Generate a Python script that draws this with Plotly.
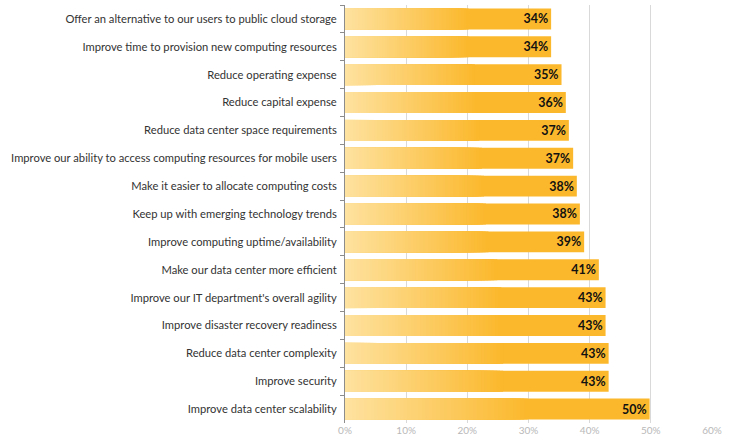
import plotly.graph_objects as go

categories = [
    "Offer an alternative to our users to public cloud storage",
    "Improve time to provision new computing resources",
    "Reduce operating expense",
    "Reduce capital expense",
    "Reduce data center space requirements",
    "Improve our ability to access computing resources for mobile users",
    "Make it easier to allocate computing costs",
    "Keep up with emerging technology trends",
    "Improve computing uptime/availability",
    "Make our data center more efficient",
    "Improve our IT department's overall agility",
    "Improve disaster recovery readiness",
    "Reduce data center complexity",
    "Improve security",
    "Improve data center scalability",
]
values = [33.7, 33.7, 35.4, 36.1, 36.6, 37.3, 37.9, 38.4, 39.1, 41.5, 42.6, 42.6, 43.1, 43.1, 49.8]
labels = ["34%", "34%", "35%", "36%", "37%", "37%", "38%", "38%", "39%", "41%", "43%", "43%", "43%", "43%", "50%"]
x_ticks = [0, 10, 20, 30, 40, 50, 60]
x_ticktext = ["0%", "10%", "20%", "30%", "40%", "50%", "60%"]

light = (254, 226, 160)
full = (251, 184, 44)
grad_frac = 0.6
n_layers = 50
bar_w = 0.75

fig = go.Figure()
# full-length bar with label
fig.add_trace(go.Bar(
    y=categories, x=values, orientation="h", width=bar_w,
    marker=dict(color="rgb(%d,%d,%d)" % full, line=dict(width=0)),
    text=labels, textposition="inside", insidetextanchor="end",
    textfont=dict(family="Lato", size=12.5, color="#111111", weight="bold"),
    showlegend=False, hoverinfo="y+text",
))
# gradient layers (longest first, shortest/lightest on top)
for j in range(n_layers):
    f = grad_frac * (1 - j / n_layers)
    t = 1 - (j + 0.5) / n_layers
    c = tuple(round(light[i] + (full[i] - light[i]) * t) for i in range(3))
    fig.add_trace(go.Bar(
        y=categories, x=[v * f for v in values], orientation="h", width=bar_w,
        marker=dict(color="rgb(%d,%d,%d)" % c, line=dict(width=0)),
        showlegend=False, hoverinfo="skip",
    ))

fig.update_layout(
    barmode="overlay",
    width=736, height=443,
    margin=dict(l=345, r=24, t=5, b=20),
    paper_bgcolor="white", plot_bgcolor="white",
    font=dict(family="Lato", size=11.2, color="#333333"),
)
fig.update_xaxes(
    range=[0, 60], tickvals=x_ticks, ticktext=x_ticktext,
    showgrid=True, gridcolor="#d9d9d9", gridwidth=1,
    zeroline=False, showline=False, automargin=False,
    tickfont=dict(size=10, color="#b8b8b8"),
)
fig.update_yaxes(
    autorange="reversed", categoryorder="array", categoryarray=categories,
    showline=True, linecolor="#8c8c8c", linewidth=1, automargin=False,
    ticks="outside", tickson="boundaries", ticklen=4, tickcolor="#8c8c8c",
    ticklabelstandoff=5,
    showgrid=False, tickfont=dict(size=11.2, color="#333333"),
)

fig.write_html("out.html", config={"displayModeBar": False},
               post_script="document.body.style.margin='0';")
